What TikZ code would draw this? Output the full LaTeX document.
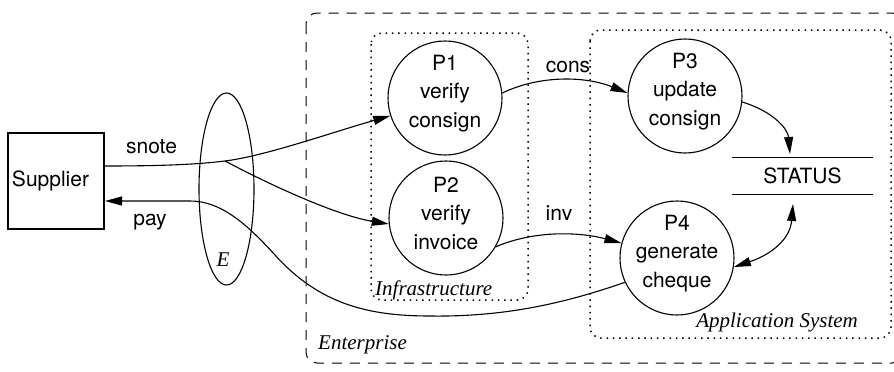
\documentclass[tikz,border=0pt]{standalone}
\usepackage{fontspec}
\setmainfont{Liberation Serif}
\newfontfamily\hv{TeX Gyre Heros}
\usetikzlibrary{arrows.meta,shapes.geometric}
\begin{document}
\begin{tikzpicture}[x=1pt,y=-1pt,
  every node/.style={font=\hv\fontsize{21}{28.5}\selectfont},
  proc/.style={circle,draw,line width=1.1pt,minimum size=114pt,inner sep=0pt},
  proctext/.style={label={[align=center,inner sep=0pt,yshift=4.5pt]center:#1}},
  flow/.style={line width=1.1pt,-{Triangle[length=17pt,width=9pt]}},
  bothflow/.style={line width=1.1pt,{Triangle[length=17pt,width=9pt]}-{Triangle[length=17pt,width=9pt]}},
  boundary/.style={line width=1pt,rounded corners=11pt},
  dashedbound/.style={boundary,dash pattern=on 10pt off 8pt},
  dottedbound/.style={boundary,line width=1.5pt,dash pattern=on 1.5pt off 4.8pt},
  flowlabel/.style={anchor=base,inner sep=0pt},
  tag/.style={font=\itshape\fontsize{21}{25}\selectfont,inner sep=0pt,anchor=base west},
]
\useasboundingbox (0,0) rectangle (894,372);

% system boundaries
\draw[dashedbound] (306,13) rectangle (903,363);
\draw[dottedbound] (371,33) rectangle (528,300);
\draw[dottedbound] (590,30) rectangle (891,338);
\node[tag] (tent) at (318,349) {Enterprise};
\node[tag] (tinf) at (375,295) {Infrastructure};
\node[tag,anchor=base east] (tapp) at (858,327) {Application System};

% external entity and environment
\node[draw,line width=1.1pt,minimum width=96pt,minimum height=96pt,
      text width=88pt,inner sep=4pt,align=left] (sup) at (56,181) {Supplier};
\node[ellipse,draw,line width=1.1pt,minimum width=55pt,minimum height=192pt,inner sep=0pt] (env) at (226.5,189) {};
\node[tag,anchor=base] (tenv) at (223,266) {E};

% processes
\node[proc,proctext={P1\\verify\\consign}] (p1) at (445,98) {};
\node[proc,proctext={P2\\verify\\invoice}] (p2) at (446,218) {};
\node[proc,proctext={P3\\update\\consign}] (p3) at (685,96) {};
\node[proc,proctext={P4\\generate\\cheque}] (p4) at (677,258) {};

% data store
\node[minimum width=141pt,minimum height=36pt,inner sep=0pt] (status) at (802.5,176) {STATUS};
\draw[line width=1.1pt] (status.north west) -- (status.north east)
                        (status.south west) -- (status.south east);

% connector end points
\coordinate (snoteStart) at (104,166);
\coordinate (split) at (225,161);
\coordinate (payEnd) at (105,201);
\coordinate (payLow) at (430,316);
\coordinate (payBend) at (275,255);
\coordinate (payFlat) at (190,201);
\coordinate (stIn) at (790,154);
\coordinate (stOut) at (793,204);

% flows
\draw[flow] (snoteStart) .. controls (170,166) and (200,164) .. (split)
            .. controls (265,156) and (330,133) .. (p1.198);
\draw[flow] (split) .. controls (280,190) and (340,216) .. (p2.186);
\draw[flow] (p4.205) .. controls (560,305) and (500,317) .. (payLow)
            .. controls (370,316) and (320,305) .. (payBend)
            .. controls (245,222) and (220,201) .. (payFlat) -- (payEnd);
\draw[flow] (p1.5) .. controls (540,75) and (585,76) .. (p3.177);
\draw[flow] (p2.330) .. controls (535,230) and (580,232) .. (p4.165);
\draw[flow] (p3.354) .. controls (775,112) and (788,130) .. (stIn);
\draw[bothflow] (p4.351) .. controls (770,255) and (790,240) .. (stOut);

% flow labels
\node[flowlabel] (lsnote) at (151.5,153) {snote};
\node[flowlabel] (lpay) at (150,225) {pay};
\node[flowlabel] (lcons) at (568,72) {cons};
\node[flowlabel] (linv) at (559,220) {inv};
\end{tikzpicture}
\end{document}
